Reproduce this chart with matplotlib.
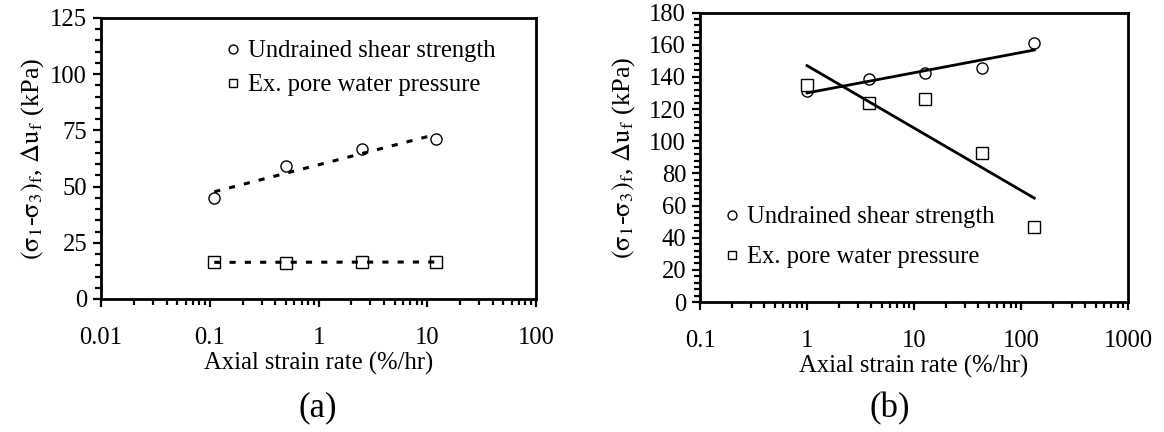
import numpy as np
import matplotlib
matplotlib.use("Agg")
import matplotlib.pyplot as plt
from matplotlib.ticker import FixedLocator, FixedFormatter, MultipleLocator, LogLocator, NullFormatter

plt.rcParams['font.family'] = ['Liberation Serif', 'DejaVu Serif']
plt.rcParams['mathtext.fontset'] = 'stix'

# Panel (a)
rate_a = [0.11, 0.5, 2.5, 12]
su_a = [45, 59, 66.5, 71]
pwp_a = [16.5, 16, 16.5, 16.5]

# Panel (b)
rate_b = [1, 3.8, 12.7, 43, 133]
su_b = [131, 138.5, 142.5, 145.5, 161]
pwp_b = [135, 123.5, 126.5, 92.5, 46.5]

xticks_a = [0.01, 0.1, 1, 10, 100]
xticklabels_a = ['0.01', '0.1', '1', '10', '100']
xticks_b = [0.1, 1, 10, 100, 1000]
xticklabels_b = ['0.1', '1', '10', '100', '1000']

legend_labels = ['Undrained shear strength', 'Ex. pore water pressure']
ylabel = r'$(\mathrm{\sigma_1}$-$\mathrm{\sigma_3})_\mathrm{f}$, $\mathrm{\Delta u_f}$ (kPa)'
xlabel = 'Axial strain rate (%/hr)'

FS = 17.7

fig = plt.figure(figsize=(11.64, 4.32), dpi=100)
ax1 = fig.add_axes([0.0868, 0.3079, 0.3737, 0.6505])
ax2 = fig.add_axes([0.6014, 0.3009, 0.3677, 0.670])


def logfit(x, y):
    lx = np.log10(x)
    m, c = np.polyfit(lx, y, 1)
    xs = np.array([min(x), max(x)])
    return xs, m * np.log10(xs) + c


def style(ax, xt, xtl, ylim, ymaj, ymin, ylpad):
    ax.set_xscale('log')
    ax.set_xlim(xt[0], xt[-1])
    ax.set_ylim(*ylim)
    ax.xaxis.set_major_locator(FixedLocator(xt))
    ax.xaxis.set_major_formatter(FixedFormatter(xtl))
    ax.xaxis.set_minor_locator(LogLocator(base=10, subs=np.arange(2, 10), numticks=20))
    ax.xaxis.set_minor_formatter(NullFormatter())
    ax.yaxis.set_major_locator(MultipleLocator(ymaj))
    ax.yaxis.set_minor_locator(MultipleLocator(ymin))
    ax.tick_params(which='major', direction='out', length=6, width=1.6, labelsize=FS, pad=4)
    ax.tick_params(which='minor', direction='out', length=4, width=1.6)
    ax.tick_params(axis='x', which='major', pad=14)
    for s in ax.spines.values():
        s.set_linewidth(2.0)
    ax.set_xlabel(xlabel, fontsize=FS, labelpad=2)
    ax.set_ylabel(ylabel, fontsize=19, labelpad=ylpad)


# Panel (a)
h1, = ax1.plot(rate_a, su_a, 'o', mfc='white', mec='black', mew=1.0, ms=8, linestyle='none', label=legend_labels[0])
h2, = ax1.plot(rate_a, pwp_a, 's', mfc='white', mec='black', mew=1.0, ms=8, linestyle='none', label=legend_labels[1])
xs, ys = logfit(rate_a, su_a)
ax1.plot(xs, ys, color='black', lw=2.2, linestyle=(0, (2, 3)))
xs, ys = logfit(rate_a, pwp_a)
ax1.plot(xs, ys, color='black', lw=2.2, linestyle=(0, (2, 3)))
style(ax1, xticks_a, xticklabels_a, (0, 125), 25, 5, 3)
ax1.legend(handles=[h1, h2], loc='upper left', bbox_to_anchor=(0.23, 1.0), frameon=False,
           fontsize=FS, handlelength=0.8, handletextpad=0.2, labelspacing=0.48,
           markerscale=0.8)
fig.text(0.273, 0.055, '(a)', fontsize=25, ha='center', va='center')

# Panel (b)
h3, = ax2.plot(rate_b, su_b, 'o', mfc='white', mec='black', mew=1.0, ms=8, linestyle='none', label=legend_labels[0])
h4, = ax2.plot(rate_b, pwp_b, 's', mfc='white', mec='black', mew=1.0, ms=8, linestyle='none', label=legend_labels[1])
xs, ys = logfit(rate_b, su_b)
ax2.plot(xs, ys, color='black', lw=2.0)
xs, ys = logfit(rate_b, pwp_b)
ax2.plot(xs, ys, color='black', lw=2.0)
style(ax2, xticks_b, xticklabels_b, (0, 180), 20, 4, 9)
ax2.legend(handles=[h3, h4], loc='upper left', bbox_to_anchor=(0.0, 0.408), frameon=False,
           fontsize=FS, handlelength=0.8, handletextpad=0.2, labelspacing=0.72,
           markerscale=0.8)
fig.text(0.764, 0.055, '(b)', fontsize=25, ha='center', va='center')

fig.savefig('out.png', dpi=100)
